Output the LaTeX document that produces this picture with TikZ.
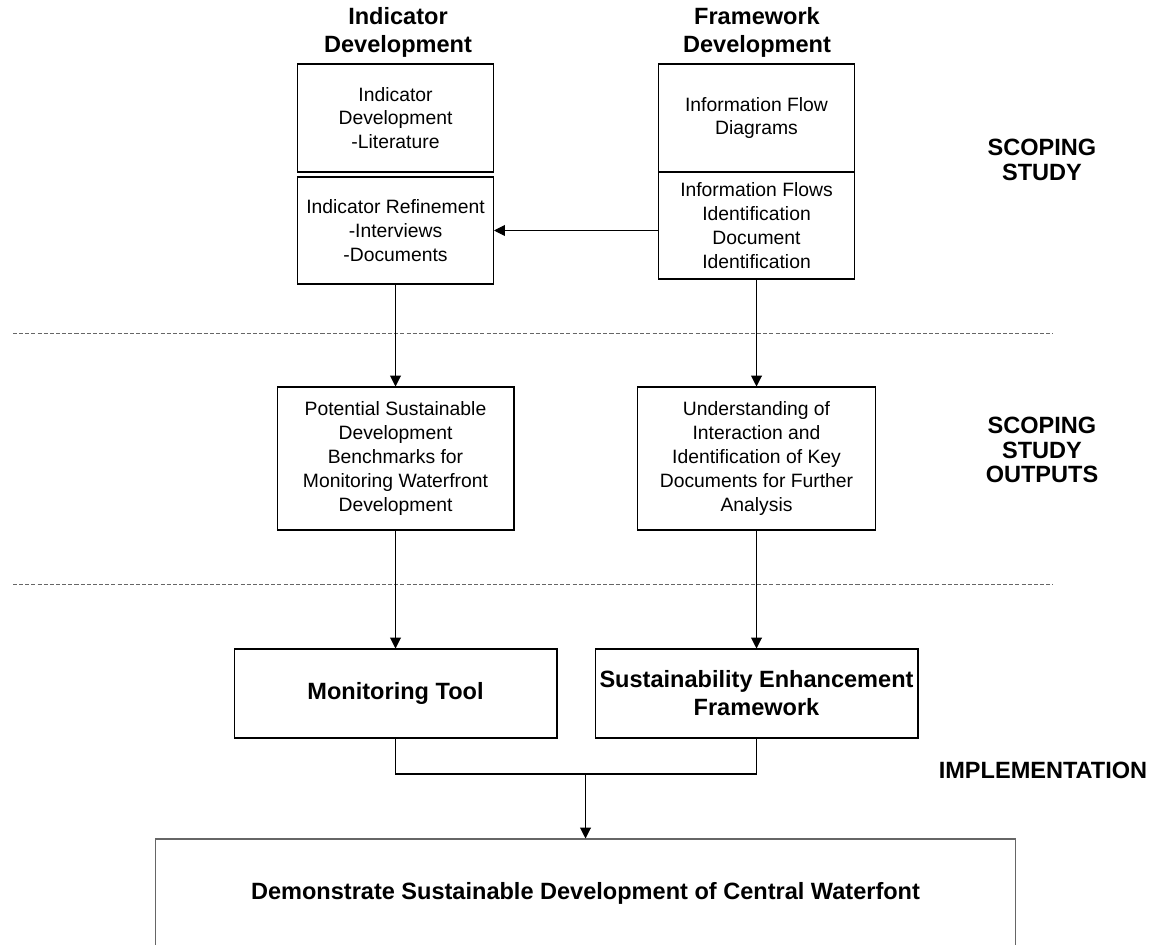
\documentclass[tikz,border=0pt]{standalone}
\usepackage{fontspec}
\setmainfont{Liberation Sans}
\usetikzlibrary{arrows.meta}
\begin{document}
\begin{tikzpicture}[x=0.02cm,y=-0.02cm,
  box/.style={draw,line width=0.6pt,align=center,inner sep=0pt,font=\fontsize{11}{13.6}\selectfont},
  bigbox/.style={draw,line width=0.6pt,align=center,inner sep=0pt,font=\fontsize{13.4}{15.9}\selectfont\bfseries},
  head/.style={align=center,font=\fontsize{13.4}{15.9}\selectfont\bfseries},
  phase/.style={align=center,font=\fontsize{13.4}{14}\selectfont\bfseries},
  flow/.style={line width=0.6pt,-{Triangle[length=6.2pt,width=6.2pt]}},
  sep/.style={black!60,line width=0.5pt,dash pattern=on 2.3pt off 1.2pt}]
  \useasboundingbox (0,0) rectangle (1158,945);
  \node[head] (hdind) at (398,32) {Indicator\\Development};
  \node[head] (hdfrm) at (757,32) {Framework\\Development};
  \node[box,minimum width=3.92cm,minimum height=2.16cm] (litdev) at (395.5,118) {Indicator\\Development\\-Literature};
  \node[box,minimum width=3.92cm,minimum height=2.14cm] (refine) at (395.5,230.5) {Indicator Refinement\\-Interviews\\-Documents};
  \node[box,minimum width=3.92cm,minimum height=2.16cm] (flowdiag) at (756.5,118) {Information Flow\\Diagrams};
  \node[box,minimum width=3.92cm,minimum height=2.14cm] (flowid) at (756.5,225.5) {Information Flows\\Identification\\Document\\Identification};
  \node[box,minimum width=4.74cm,minimum height=2.86cm] (bench) at (395.5,458.5) {Potential Sustainable\\Development\\Benchmarks for\\Monitoring Waterfront\\Development};
  \node[box,minimum width=4.76cm,minimum height=2.86cm] (interact) at (756.5,458.5) {Understanding of\\Interaction and\\Identification of Key\\Documents for Further\\Analysis};
  \node[bigbox,minimum width=6.46cm,minimum height=1.78cm] (tool) at (395.5,693.5) {Monitoring Tool};
  \node[bigbox,minimum width=6.46cm,minimum height=1.78cm] (enhance) at (756.5,693.5) {Sustainability Enhancement\\Framework};
  \node[bigbox,draw=black!60,minimum width=17.22cm,minimum height=2.16cm] (demo) at (585.5,893) {Demonstrate Sustainable Development of Central Waterfont};
  \node[phase] (scope) at (1042,160) {SCOPING\\STUDY};
  \node[phase] (outputs) at (1042,450) {SCOPING\\STUDY\\OUTPUTS};
  \node[phase] (impl) at (1043,770) {IMPLEMENTATION};
  \draw[sep] (13,333) -- (1053,333);
  \draw[sep] (13,584) -- (1053,584);
  \coordinate (join) at (585.5,774);
  \draw[flow] (flowid.west |- refine.east) -- (refine.east);
  \draw[flow] (refine.south) -- (bench.north);
  \draw[flow] (flowid.south) -- (interact.north);
  \draw[flow] (bench.south) -- (tool.north);
  \draw[flow] (interact.south) -- (enhance.north);
  \draw[line width=0.6pt] (tool.south) |- (join) -| (enhance.south);
  \draw[flow] (join) -- (join |- demo.north);
\end{tikzpicture}
\end{document}
